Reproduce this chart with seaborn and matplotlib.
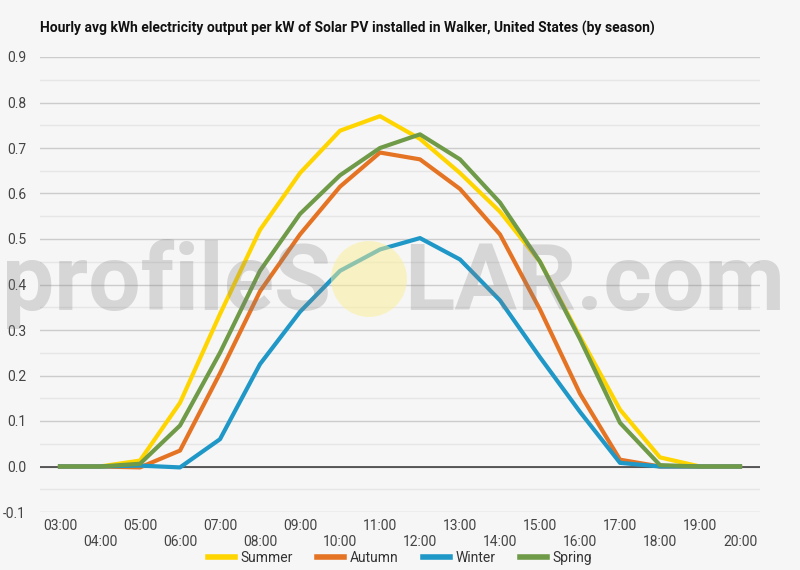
import matplotlib
matplotlib.use('Agg')
import matplotlib.pyplot as plt
import seaborn as sns
import pandas as pd
from matplotlib.patches import Ellipse
from matplotlib.ticker import MultipleLocator, FormatStrFormatter

# ---------------- data ----------------
hours = list(range(3, 21))
hour_labels = [f"{h:02d}:00" for h in hours]
seasons = ["Summer", "Autumn", "Winter", "Spring"]
summer = [0.0, 0.0, 0.013, 0.14, 0.335, 0.52, 0.645, 0.738, 0.77, 0.72, 0.645, 0.56, 0.45, 0.285, 0.125, 0.02, 0.0, 0.0]
autumn = [0.0, 0.0, -0.002, 0.035, 0.205, 0.385, 0.51, 0.615, 0.69, 0.675, 0.61, 0.51, 0.345, 0.16, 0.015, 0.0, 0.0, 0.0]
winter = [0.0, 0.0, 0.002, -0.002, 0.06, 0.225, 0.34, 0.43, 0.477, 0.502, 0.455, 0.365, 0.24, 0.12, 0.008, 0.0, 0.0, 0.0]
spring = [0.0, 0.0, 0.006, 0.09, 0.25, 0.43, 0.555, 0.64, 0.70, 0.73, 0.675, 0.58, 0.45, 0.28, 0.096, 0.003, 0.0, 0.0]
colors = ["#FFD500", "#E57324", "#1F97C7", "#6F9A47"]
title = "Hourly avg kWh electricity output per kW of Solar PV installed in Walker, United States (by season)"

df = pd.DataFrame({
    "hour": hours * 4,
    "value": summer + autumn + winter + spring,
    "season": [s for s in seasons for _ in hours],
})

BG = "#f6f6f6"
plt.rcParams['font.family'] = ['Roboto', 'DejaVu Sans']
plt.rcParams['axes.unicode_minus'] = False

fig = plt.figure(figsize=(8, 5.7), dpi=100, facecolor=BG)
ax = fig.add_axes([40 / 800, 1 - 512 / 570, 720 / 800, (512 - 57) / 570])
ax.set_facecolor(BG)

sns.lineplot(data=df, x="hour", y="value", hue="season", hue_order=seasons,
             palette=dict(zip(seasons, colors)), linewidth=3.0, ax=ax)

ax.set_xlim(2.5, 20.5)
ax.set_ylim(-0.1, 0.9)
ax.yaxis.set_major_locator(MultipleLocator(0.1))
ax.yaxis.set_minor_locator(MultipleLocator(0.05))
ax.yaxis.set_major_formatter(FormatStrFormatter('%.1f'))
ax.grid(which='major', axis='y', color='#cccccc', lw=1)
ax.grid(which='minor', axis='y', color='#e6e6e6', lw=1)
ax.grid(which='major', axis='x', visible=False)
ax.set_axisbelow(True)
ax.axhline(0, color='#333333', lw=1.1, zorder=1.5)
for s in ax.spines.values():
    s.set_visible(False)
ax.set_xticks(hours)
ax.set_xticklabels([lab if i % 2 == 0 else "\n" + lab for i, lab in enumerate(hour_labels)])
ax.tick_params(axis='both', which='both', length=0, labelsize=10, colors='#444444')
ax.tick_params(axis='y', pad=10)
ax.tick_params(axis='x', pad=5)
ax.set_xlabel("")
ax.set_ylabel("")

handles, labels = ax.get_legend_handles_labels()
ax.get_legend().remove()
leg = fig.legend(handles, labels, loc='center', bbox_to_anchor=(0.5, 1 - 558 / 570), ncol=4,
                 frameon=False, fontsize=10, handlelength=1.95, handletextpad=0.45,
                 columnspacing=1.7)
for line in leg.get_lines():
    line.set_linewidth(4)
for t in leg.get_texts():
    t.set_color('#333333')

fig.text(40 / 800, 1 - 28 / 570, title, ha='left', va='center', fontsize=10,
         fontweight='bold', color='#111111')

# watermark
fig.text(331 / 800, 1 - 310 / 570, "profileS", ha='right', va='baseline', fontsize=67,
         fontweight='bold', family='Roboto', color='#808080', alpha=0.27)
fig.text(404 / 800, 1 - 310 / 570, "LAR.com", ha='left', va='baseline', fontsize=67,
         fontweight='bold', family='Roboto', color='#808080', alpha=0.27)
sun = Ellipse((369 / 800, 1 - 279 / 570), 76 / 800, 76 / 570, transform=fig.transFigure,
              facecolor='#fbee94', edgecolor='none', alpha=0.5)
fig.add_artist(sun)

fig.savefig("out.png", dpi=100, facecolor=BG)
